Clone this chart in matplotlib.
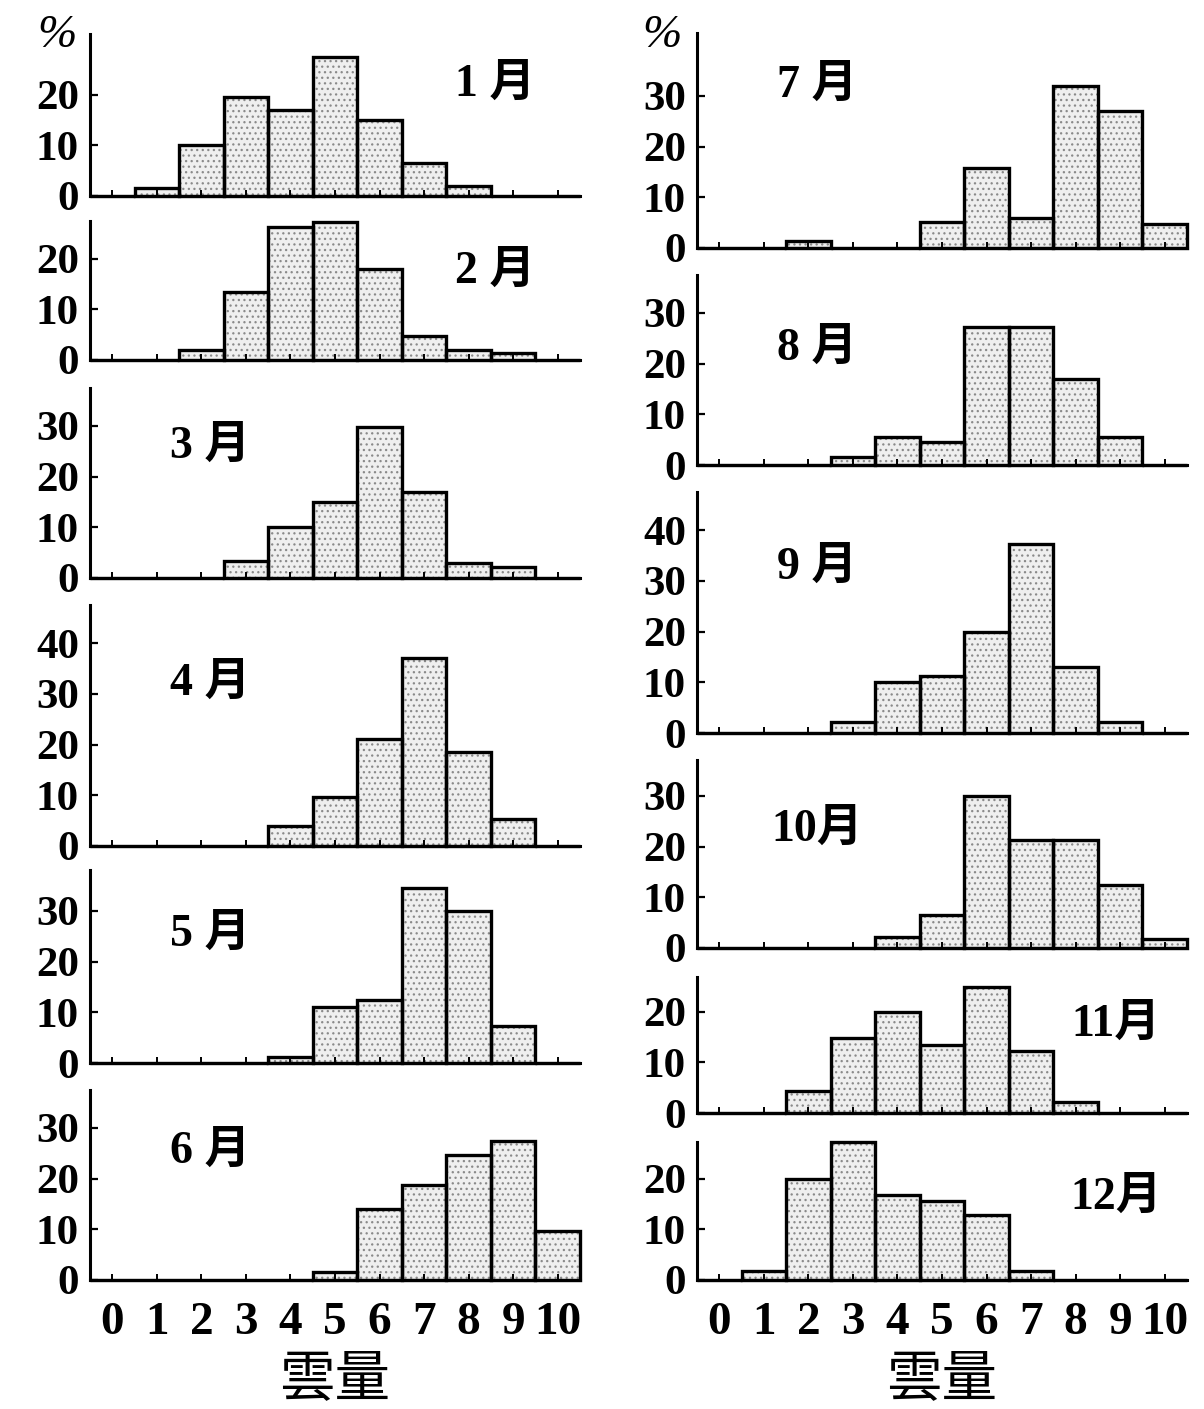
import matplotlib.pyplot as plt
import numpy as np

plt.rcParams['font.family'] = ['Liberation Serif', 'Noto Sans CJK JP']
plt.rcParams['font.weight'] = 'bold'
plt.rcParams['hatch.linewidth'] = 0.9

# cloud amount classes (tenths) and monthly frequency (%)
cloud = list(range(11))
cloud_labels = [str(c) for c in cloud]
months = ['1 月', '2 月', '3 月', '4 月', '5 月', '6 月',
          '7 月', '8 月', '9 月', '10月', '11月', '12月']

jan = [0, 1.5, 10, 19.5, 17, 27.5, 15, 6.5, 2, 0, 0]
feb = [0, 0, 2, 13.5, 26.3, 27.3, 18, 4.8, 2, 1.4, 0]
mar = [0, 0, 0, 3.4, 10, 15, 29.8, 17, 3, 2.1, 0]
apr = [0, 0, 0, 0, 3.9, 9.7, 21.2, 37, 18.6, 5.4, 0]
may = [0, 0, 0, 0, 1.2, 11, 12.5, 34.5, 30, 7.3, 0]
jun = [0, 0, 0, 0, 0, 1.5, 14, 18.8, 24.7, 27.4, 9.7]
jul = [0, 0, 1.4, 0, 0, 5.1, 15.7, 5.9, 32, 27, 4.7]
aug = [0, 0, 0, 1.5, 5.6, 4.6, 27.3, 27.3, 17, 5.6, 0]
sep = [0, 0, 0, 2.2, 10, 11.2, 20, 37.3, 13, 2.2, 0]
oct_ = [0, 0, 0, 0, 2.1, 6.6, 30, 21.3, 21.3, 12.5, 1.8]
nov = [0, 0, 4.4, 14.7, 19.9, 13.4, 24.8, 12.3, 2.2, 0, 0]
dec = [0, 1.7, 20, 27.2, 16.7, 15.6, 12.8, 1.7, 0, 0, 0]
series = [jan, feb, mar, apr, may, jun, jul, aug, sep, oct_, nov, dec]

# y-axis upper limit and highest labelled tick of each panel (%)
ytops = [32, 27.5, 37.5, 47.5, 38, 37.5, 42.5, 37.5, 47.5, 37, 26.8, 27.3]
ytick_max = [20, 20, 30, 40, 30, 30, 30, 30, 40, 30, 20, 20]

# panel placement in pixels: column left edge and baseline of each row
W, H = 1204, 1409
PX_PER_PCT = 5.07
col_left = [90, 697]
col_width = 490
baselines = [196, 360, 578, 846, 1063, 1280,
             248, 465, 733, 948, 1113, 1280]
# month label anchor in data units
label_pos = [(8.6, 22), (8.6, 17.4), (2.2, 25.8), (2.2, 32), (2.2, 25.2), (2.2, 25.2),
             (2.2, 32), (2.2, 23), (2.2, 32.5), (2.2, 23.3), (8.9, 17.4), (8.9, 16.2)]

fig = plt.figure(figsize=(W / 100, H / 100), dpi=100)

for i, vals in enumerate(series):
    col = i // 6
    base = baselines[i]
    h = ytops[i] * PX_PER_PCT
    ax = fig.add_axes([col_left[col] / W, (H - base) / H, col_width / W, h / H])

    ax.bar(cloud, vals, width=1.0, color='#efefef', edgecolor='#8a8a8a',
           hatch='...', linewidth=0)
    ax.bar(cloud, vals, width=1.0, fill=False, edgecolor='black',
           linewidth=2.4, clip_on=False)

    ax.set_xlim(-0.5, 10.5)
    ax.set_ylim(0, ytops[i])
    for s in ['top', 'right']:
        ax.spines[s].set_visible(False)
    for s in ['left', 'bottom']:
        ax.spines[s].set_linewidth(2.2)
    ax.set_yticks(np.arange(0, ytick_max[i] + 1, 10))
    ax.tick_params(axis='y', direction='in', length=6, width=1.6,
                   labelsize=31, pad=8)
    ax.set_xticks(cloud)
    ax.tick_params(axis='x', direction='in', length=4, width=1.4)
    if i % 6 == 5:
        ax.set_xticklabels(cloud_labels, fontsize=34)
        ax.tick_params(axis='x', pad=16)
        ax.set_xlabel('雲量', fontsize=40, labelpad=8)
    else:
        ax.set_xticklabels([])

    lx, ly = label_pos[i]
    ax.text(lx, ly, months[i], fontsize=33, ha='center', va='center')

# percent sign above the first panel of each column
fig.text(57 / W, 1 - 36 / H, '%', fontsize=34, style='italic',
         fontweight='normal', ha='center', va='center')
fig.text(662 / W, 1 - 36 / H, '%', fontsize=34, style='italic',
         fontweight='normal', ha='center', va='center')

fig.savefig('out.png', dpi=100)
